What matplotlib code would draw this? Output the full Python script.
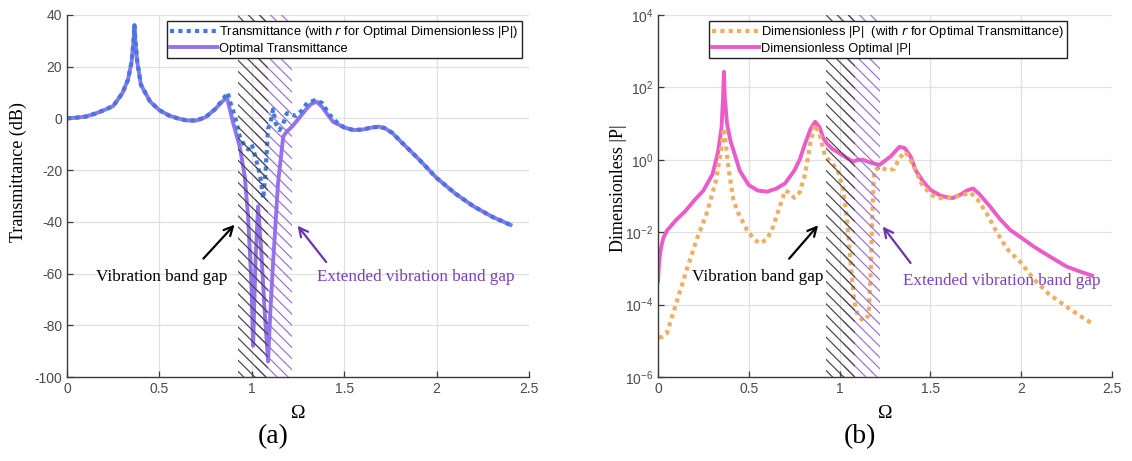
import matplotlib
matplotlib.use("Agg")
import matplotlib.pyplot as plt
import numpy as np

# ---------------- data (a) ----------------
om_opt_T = [0, 0.05, 0.1, 0.15, 0.2, 0.25, 0.3, 0.33, 0.35, 0.36, 0.365, 0.37, 0.38, 0.4, 0.45,
            0.5, 0.55, 0.6, 0.65, 0.7, 0.75, 0.8, 0.84, 0.865, 0.9, 0.935, 0.962, 0.98, 0.998,
            1.007, 1.02, 1.034, 1.05, 1.07, 1.088, 1.1, 1.115, 1.142, 1.17, 1.19, 1.22, 1.26,
            1.29, 1.32, 1.35, 1.38, 1.41, 1.44, 1.5, 1.55, 1.6, 1.65, 1.69, 1.72, 1.76, 1.8,
            1.9, 2.0, 2.1, 2.2, 2.3, 2.4]
opt_T = [0, 0.3, 0.7, 1.8, 3.2, 4.8, 9.8, 15, 22, 30, 36, 30, 22, 13, 6.5,
         3.2, 1.2, 0, -0.8, -0.8, 0.5, 3.5, 6.5, 8.2, -2, -11, -22.5, -38, -64,
         -88, -55, -34, -50, -75, -94, -75, -56, -25, -7, -5, -3, 0.5,
         3.2, 5.5, 6.5, 4.5, 1.5, -1.3, -3.5, -4.5, -4.3, -3.5, -3.2, -3.8, -5.6, -8.5,
         -15.5, -23, -29, -34, -38, -41.2]

om_T_rP = [0, 0.05, 0.1, 0.15, 0.2, 0.25, 0.3, 0.33, 0.35, 0.36, 0.365, 0.37, 0.38, 0.4, 0.45,
           0.5, 0.55, 0.6, 0.65, 0.7, 0.75, 0.8, 0.84, 0.87, 0.88, 0.908, 0.935, 0.96, 0.98,
           1.0, 1.02, 1.045, 1.062, 1.075, 1.088, 1.1, 1.115, 1.13, 1.15, 1.17, 1.19, 1.21,
           1.24, 1.27, 1.3, 1.34, 1.38, 1.42, 1.46, 1.5, 1.55, 1.6, 1.65, 1.69, 1.72, 1.76,
           1.8, 1.9, 2.0, 2.1, 2.2, 2.3, 2.4]
T_rP = [0, 0.3, 0.7, 1.8, 3.2, 4.8, 9.8, 15, 22, 30, 36, 30, 22, 13, 6.5,
        3.2, 1.2, 0, -0.8, -0.8, 0.5, 3.5, 7, 10, 7, 1, -7, -10.5, -12,
        -10, -15, -22, -31, -20, -4, -2, 3.5, -2, -4.5, -2, 2, 1.5,
        1, 3, 6, 7, 6, 1.5, -1.5, -3.5, -4.5, -4.3, -3.5, -3.2, -3.8, -5.6,
        -8.5, -15.5, -23, -29, -34, -38, -41.2]

# ---------------- data (b) (log10 of |P|) ----------------
om_opt_P = [0, 0.005, 0.011, 0.02, 0.03, 0.05, 0.1, 0.15, 0.2, 0.25, 0.3, 0.33, 0.35, 0.358,
            0.363, 0.368, 0.38, 0.4, 0.415, 0.45, 0.5, 0.55, 0.6, 0.65, 0.7, 0.75, 0.78, 0.81,
            0.84, 0.865, 0.89, 0.91, 0.93, 0.96, 1.0, 1.04, 1.075, 1.1, 1.13, 1.17, 1.22, 1.28,
            1.33, 1.36, 1.39, 1.42, 1.46, 1.5, 1.56, 1.62, 1.67, 1.7, 1.735, 1.77, 1.83, 1.88,
            1.94, 2.0, 2.07, 2.15, 2.25, 2.32, 2.39]
log_opt_P = [-3.35, -2.9, -2.6, -2.35, -2.15, -1.95, -1.66, -1.42, -1.12, -0.85, -0.4, 0.2, 0.9, 1.7,
             2.43, 1.7, 1.0, 0.5, 0.27, -0.3, -0.7, -0.85, -0.88, -0.8, -0.65, -0.3, 0.0, 0.45,
             0.85, 1.05, 0.9, 0.6, 0.45, 0.3, 0.18, 0.05, -0.05, 0.0, 0.0, -0.08, -0.14, 0.09,
             0.36, 0.32, 0.1, -0.3, -0.6, -0.83, -1.0, -1.06, -0.95, -0.85, -0.79, -0.95, -1.3, -1.62,
             -1.94, -2.15, -2.4, -2.65, -2.95, -3.08, -3.2]

om_P_rT = [0.005, 0.02, 0.048, 0.1, 0.158, 0.213, 0.268, 0.32, 0.345, 0.358, 0.363, 0.37, 0.387,
           0.415, 0.44, 0.49, 0.53, 0.56, 0.6, 0.63, 0.67, 0.7, 0.72, 0.75, 0.78, 0.81, 0.84,
           0.865, 0.89, 0.92, 0.96, 0.99, 1.02, 1.04, 1.06, 1.08, 1.1, 1.13, 1.16, 1.172, 1.18,
           1.19, 1.22, 1.27, 1.3, 1.33, 1.36, 1.38, 1.41, 1.45, 1.5, 1.54, 1.6, 1.68, 1.72,
           1.76, 1.81, 1.86, 1.92, 2.0, 2.07, 2.15, 2.25, 2.32, 2.39]
log_P_rT = [-4.9, -4.9, -4.8, -3.97, -3.04, -2.2, -1.48, -0.56, 0.2, 0.7, 0.88, 0.6, -0.19,
            -1.1, -1.45, -1.94, -2.2, -2.31, -2.2, -1.9, -1.3, -0.85, -0.9, -1.05, -0.9, -0.4, 0.5,
            0.98, 0.7, 0.1, -0.1, -0.3, -0.8, -1.6, -2.8, -3.9, -4.3, -4.45, -4.3, -3.0, -1.5,
            -0.3, -0.2, -0.3, -0.25, 0.05, 0.22, 0.1, -0.2, -0.65, -0.95, -1.06, -1.05, -0.97, -0.9,
            -1.1, -1.48, -1.95, -2.45, -2.85, -3.3, -3.7, -4.06, -4.3, -4.52]

band_gap = (0.925, 1.085)
ext_band_gap = (1.02, 1.22)

xticks = [0, 0.5, 1, 1.5, 2, 2.5]
yticks_a = [-100, -80, -60, -40, -20, 0, 20, 40]
yticks_b = [1e-6, 1e-4, 1e-2, 1e0, 1e2, 1e4]

# ---------------- style ----------------
plt.rcParams['font.family'] = ['Liberation Sans', 'DejaVu Sans']
plt.rcParams['mathtext.default'] = 'regular'
plt.rcParams['axes.unicode_minus'] = False
plt.rcParams['hatch.linewidth'] = 0.85

c_purple = '#9372EE'
c_blue = '#3F7BDB'
c_pink = '#EC5CC6'
c_orange = '#F0AE62'
c_black_hatch = '#444444'
c_purple_hatch = '#9A6FD6'
c_ann_purple = '#6B33B0'
c_tick = '#4a4a4a'
serif = ['Liberation Serif', 'DejaVu Serif']

fig = plt.figure(figsize=(11.32, 4.61), dpi=100)
axA = fig.add_axes([67/1132, 1-377/461, 462/1132, 362/461])
axB = fig.add_axes([658/1132, 1-377/461, 454/1132, 362/461])


def style(ax):
    ax.set_xlim(0, 2.5)
    ax.set_xticks(xticks)
    ax.set_xticklabels(['0', '0.5', '1', '1.5', '2', '2.5'])
    ax.grid(True, color='#e1e1e1', linewidth=0.9)
    ax.set_axisbelow(True)
    for s in ['top', 'right']:
        ax.spines[s].set_visible(False)
    for s in ['left', 'bottom']:
        ax.spines[s].set_color('#3a3a3a')
        ax.spines[s].set_linewidth(1.0)
    ax.tick_params(direction='in', length=4, width=0.9, colors='#3a3a3a',
                   labelcolor=c_tick, labelsize=10)
    ax.minorticks_off()


def hatches(ax):
    ax.axvspan(ext_band_gap[0], ext_band_gap[1], facecolor='none', edgecolor=c_purple_hatch,
               hatch='\\\\\\', linewidth=0, zorder=3)
    ax.axvspan(band_gap[0], band_gap[1], facecolor='none', edgecolor=c_black_hatch,
               hatch='\\\\\\', linewidth=0, zorder=3)


def legend(ax, anchor, loc):
    leg = ax.legend(loc=loc, bbox_to_anchor=anchor, borderaxespad=0,
                    fontsize=9.3, handlelength=3.6, fancybox=False, framealpha=1,
                    edgecolor='#222222', borderpad=0.25, labelspacing=0.2, handletextpad=0.2)
    leg.set_zorder(10)
    leg.get_frame().set_linewidth(1.0)


# ---------- (a) ----------
style(axA)
axA.set_ylim(-100, 40)
axA.set_yticks(yticks_a)
hatches(axA)
axA.plot(om_T_rP, T_rP, linestyle=(0, (1, 1)), color=c_blue, lw=3.0, zorder=2.5,
         label='Transmittance (with $\\mathit{r}$ for Optimal Dimensionless |P|)')
axA.plot(om_opt_T, opt_T, '-', color=c_purple, lw=2.8, zorder=2,
         label='Optimal Transmittance')
legend(axA, (0.985, 0.983), 'upper right')
axA.set_ylabel('Transmittance (dB)', family=serif, fontsize=13)
axA.yaxis.set_label_coords(-0.087, 0.566)
axA.set_xlabel('Ω', family=serif, fontsize=14, va='center')
axA.xaxis.set_label_coords(0.5, -0.1)
axA.annotate('', xy=(0.917, -40.3), xytext=(0.728, -55),
             arrowprops=dict(arrowstyle='->', color='black', lw=1.6, mutation_scale=16))
axA.text(0.512, -61.3, 'Vibration band gap', family=serif, fontsize=12.3,
         ha='center', va='center', color='black')
axA.annotate('', xy=(1.238, -40.6), xytext=(1.412, -56.4),
             arrowprops=dict(arrowstyle='->', color=c_ann_purple, lw=1.6, mutation_scale=16))
axA.text(1.885, -61.3, 'Extended vibration band gap', family=serif, fontsize=12.3,
         ha='center', va='center', color='#7A3FC0')

# ---------- (b) ----------
style(axB)
axB.set_yscale('log')
axB.set_ylim(1e-6, 1e4)
axB.set_yticks(yticks_b)
axB.minorticks_off()
hatches(axB)
axB.plot(om_P_rT, 10 ** np.array(log_P_rT), linestyle=(0, (1, 1)), color=c_orange, lw=3.0,
         zorder=2.5, label='Dimensionless |P|  (with $\\mathit{r}$ for Optimal Transmittance)')
axB.plot(om_opt_P, 10 ** np.array(log_opt_P), '-', color=c_pink, lw=2.8, zorder=2,
         label='Dimensionless Optimal |P|')
legend(axB, (0.112, 0.983), 'upper left')
axB.set_ylabel('Dimensionless |P|', family=serif, fontsize=13)
axB.yaxis.set_label_coords(-0.068, 0.522)
axB.set_xlabel('Ω', family=serif, fontsize=14, va='center')
axB.xaxis.set_label_coords(0.5, -0.1)
axB.annotate('', xy=(0.892, 10 ** -1.75), xytext=(0.712, 10 ** -2.79),
             arrowprops=dict(arrowstyle='->', color='black', lw=1.6, mutation_scale=16))
axB.text(0.55, 10 ** -3.25, 'Vibration band gap', family=serif, fontsize=12.3,
         ha='center', va='center', color='black')
axB.annotate('', xy=(1.228, 10 ** -1.78), xytext=(1.40, 10 ** -2.91),
             arrowprops=dict(arrowstyle='->', color=c_ann_purple, lw=1.6, mutation_scale=16))
axB.text(1.894, 10 ** -3.34, 'Extended vibration band gap', family=serif, fontsize=12.3,
         ha='center', va='center', color='#7A3FC0')

fig.text(273/1132, 1-437/461, '(a)', family=serif, fontsize=20, ha='center', va='center')
fig.text(860/1132, 1-437/461, '(b)', family=serif, fontsize=20, ha='center', va='center')

fig.savefig('out.png', dpi=100)
